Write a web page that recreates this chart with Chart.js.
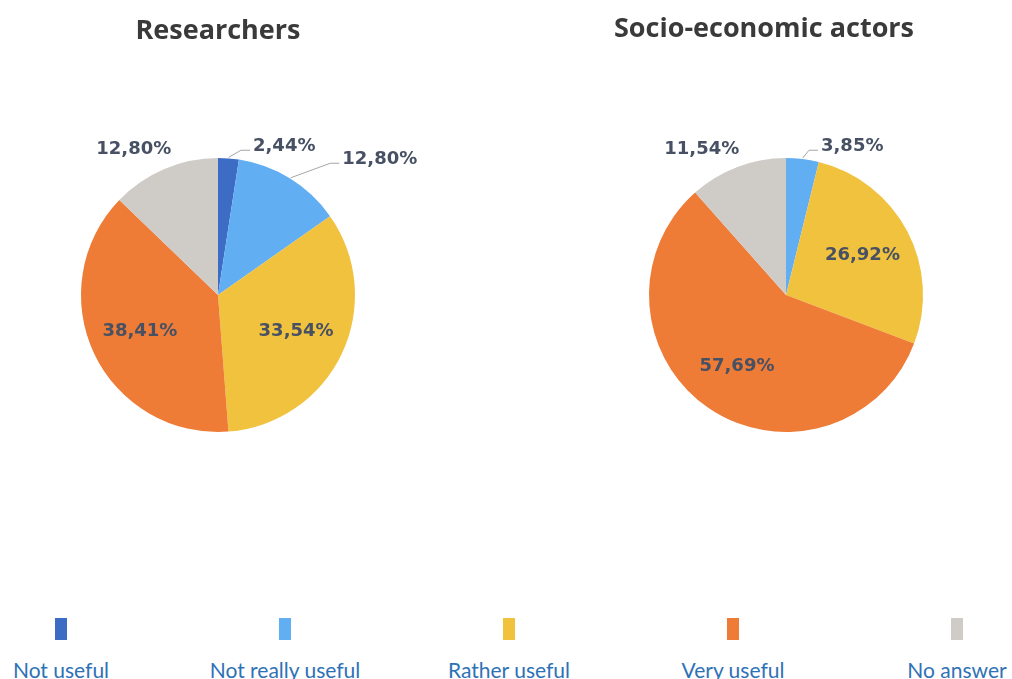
<!DOCTYPE html>
<html>
<head>
<meta charset="utf-8">
<script src="https://cdn.jsdelivr.net/npm/chart.js@4.4.1/dist/chart.umd.min.js"></script>
<style>
  html, body { margin: 0; padding: 0; background: #fff; }
  body { width: 1012px; height: 679px; position: relative; overflow: hidden; }
  canvas { position: absolute; top: 0; }
  .title { position: absolute; font-family: "Open Sans", sans-serif; font-weight: bold; font-size: 27px; color: #3a3a3a; white-space: nowrap; transform: translate(-50%, -50%); }
  .legend-box { position: absolute; width: 12px; height: 22px; top: 618px; }
  .legend-text { position: absolute; top: 669px; font-family: Lato, sans-serif; font-size: 21px; color: #2e72b6; white-space: nowrap; transform: translate(-50%, -50%); }
</style>
</head>
<body>
<canvas id="pieResearchers" width="436" height="590" style="left:0px"></canvas>
<canvas id="pieActors" width="436" height="590" style="left:568px"></canvas>
<div id="titles"></div>
<div id="legend"></div>
<script>
const categories = ['Not useful', 'Not really useful', 'Rather useful', 'Very useful', 'No answer'];
const researchers = [2.44, 12.80, 33.54, 38.41, 12.80];
const socioActors = [0, 3.85, 26.92, 57.69, 11.54];
const chartTitles = ['Researchers', 'Socio-economic actors'];

const sliceColors = ['#3d6cc4', '#62aef2', '#f1c23d', '#ee7b36', '#cfccc8'];

function fmt(v) {
    return v.toFixed(2).replace('.', ',') + '%';
}

// labels drawn like the office chart: big slices inside, small ones outside with leader lines
const pieLabels = {
    id: 'pieLabels',
    afterDatasetsDraw(chart) {
        const ctx = chart.ctx;
        const meta = chart.getDatasetMeta(0);
        const values = chart.data.datasets[0].data;
        const total = values.reduce((a, b) => a + b, 0);
        ctx.save();
        ctx.font = 'bold 18px "DejaVu Sans"';
        ctx.textBaseline = 'middle';
        ctx.textAlign = 'center';
        ctx.fillStyle = '#475163';
        const outside = [];
        meta.data.forEach((arc, i) => {
            const v = values[i];
            if (!v) return;
            const p = arc.getProps(['x', 'y', 'startAngle', 'endAngle', 'outerRadius'], true);
            const mid = (p.startAngle + p.endAngle) / 2;
            const text = fmt(v);
            if (v / total >= 0.15) {
                const d = p.outerRadius * 0.63;
                ctx.fillText(text, p.x + Math.cos(mid) * d, p.y + Math.sin(mid) * d);
            } else {
                let th = mid + Math.PI / 2;
                th = ((th % (2 * Math.PI)) + 2 * Math.PI) % (2 * Math.PI);
                outside.push({ text, th, mid: th, p, w: ctx.measureText(text).width });
            }
        });

        const deg = Math.PI / 180;
        const right = outside.filter(o => o.th < Math.PI).sort((a, b) => a.th - b.th);
        const left = outside.filter(o => o.th >= Math.PI).sort((a, b) => b.th - a.th);
        right.forEach((o, k) => {
            o.th = k === 0 ? Math.max(o.th, 24 * deg) : Math.max(o.th, right[k - 1].th + 26 * deg);
            o.k = k;
        });
        left.forEach((o, k) => {
            o.th = k === 0 ? Math.min(o.th, 330 * deg) : Math.min(o.th, left[k - 1].th - 26 * deg);
            o.k = k;
        });

        outside.forEach(o => {
            const r = o.p.outerRadius;
            const s = Math.sin(o.th), c = Math.cos(o.th);
            const d = r + 4 + Math.abs(s) * o.w / 2 + Math.abs(c) * 10 + 35 * o.k;
            const tx = o.p.x + s * d;
            const ty = o.p.y - c * d;
            ctx.fillText(o.text, tx, ty);
            if (Math.abs(o.th - o.mid) > 12 * deg) {
                const sx = o.p.x + Math.sin(o.mid) * (r + 1);
                const sy = o.p.y - Math.cos(o.mid) * (r + 1);
                const dir = s >= 0 ? 1 : -1;
                const ex = tx - dir * (o.w / 2 + 3);
                const ey = ty + 4;
                ctx.beginPath();
                ctx.strokeStyle = '#a6a6a6';
                ctx.lineWidth = 1;
                ctx.moveTo(sx, sy);
                ctx.lineTo(ex - dir * 9, ey);
                ctx.lineTo(ex, ey);
                ctx.stroke();
            }
        });
        ctx.restore();
    }
};

function makePie(id, values) {
    return new Chart(document.getElementById(id), {
        type: 'pie',
        data: {
            labels: categories,
            datasets: [{
                data: values,
                backgroundColor: sliceColors,
                borderWidth: 0
            }]
        },
        options: {
            responsive: false,
            animation: false,
            events: [],
            layout: { padding: { left: 81, right: 81, top: 158, bottom: 158 } },
            plugins: {
                legend: { display: false },
                tooltip: { enabled: false },
                title: { display: false }
            }
        },
        plugins: [pieLabels]
    });
}

var chartResearchers = makePie('pieResearchers', researchers);
var chartActors = makePie('pieActors', socioActors);

// titles
const titlePos = [[218, 28], [764, 26]];
const titlesDiv = document.getElementById('titles');
chartTitles.forEach((t, i) => {
    const el = document.createElement('div');
    el.className = 'title';
    el.textContent = t;
    el.style.left = titlePos[i][0] + 'px';
    el.style.top = titlePos[i][1] + 'px';
    titlesDiv.appendChild(el);
});

// shared legend along the bottom
const legendDiv = document.getElementById('legend');
categories.forEach((name, i) => {
    const cx = 61 + 224 * i;
    const box = document.createElement('div');
    box.className = 'legend-box';
    box.style.left = (cx - 6) + 'px';
    box.style.background = sliceColors[i];
    legendDiv.appendChild(box);
    const txt = document.createElement('div');
    txt.className = 'legend-text';
    txt.style.left = cx + 'px';
    txt.textContent = name;
    legendDiv.appendChild(txt);
});
</script>
</body>
</html>
